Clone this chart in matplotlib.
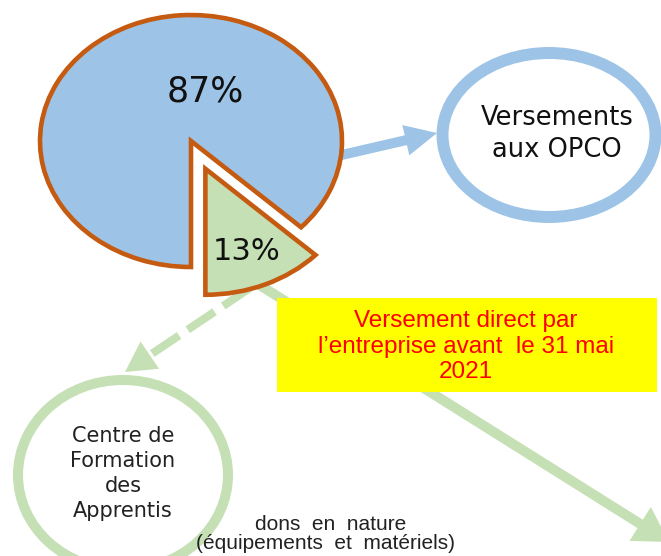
import matplotlib.pyplot as plt
from matplotlib.patches import Ellipse, Rectangle

# share of the apprenticeship tax
shares = [87, 13]
share_labels = [f"{v}%" for v in shares]
opco_label = ["Versements", "aux OPCO"]
cfa_label = ["Centre de", "Formation", "des", "Apprentis"]
direct_label = ["Versement direct par", "l\u2019entreprise avant  le 31 mai", "2021"]
nature_label = ["dons  en  nature", "(\u00e9quipements  et  mat\u00e9riels)"]

BLUE = '#9DC3E6'
GREEN = '#C5E0B4'
EDGE = '#C55A11'

W, H = 661, 556
fig = plt.figure(figsize=(W / 100, H / 100), dpi=100)

# overlay axes working in pixel units
ax = fig.add_axes([0, 0, 1, 1])
ax.set_xlim(0, W)
ax.set_ylim(H, 0)
ax.axis('off')

# blue arrow to OPCO
ax.arrow(320, 160, 117, -27, width=10, head_width=31, head_length=32,
         length_includes_head=True, color=BLUE, lw=0)
ax.add_patch(Ellipse((549, 135), 213, 164, fill=False, ec=BLUE, lw=8.6))
for txt, yb in zip(opco_label, [125, 157]):
    ax.text(557, yb, txt, ha='center', va='baseline', fontsize=18.5, color='#111111')

# green solid arrow down-right (behind the yellow box)
ax.arrow(250, 279, 419, 263, width=10, head_width=40, head_length=34,
         length_includes_head=True, color=GREEN, lw=0, zorder=1)
ax.add_patch(Rectangle((277, 298), 380, 94, fc='#FFFF00', ec='none', zorder=3))
for txt, yb in zip(direct_label, [327, 353, 378]):
    ax.text(466, yb, txt, ha='center', va='baseline', fontsize=17.5,
            color='#FF0000', family='Liberation Sans', zorder=4)

# green dashed arrow to CFA
ax.plot([250, 150], [288, 355], color=GREEN, lw=5.8, dashes=(4, 1.3),
        solid_capstyle='butt', dash_capstyle='butt')
ax.arrow(150, 355, -25, 17, width=0.01, head_width=33, head_length=30,
         length_includes_head=True, color=GREEN, lw=0)
ax.add_patch(Ellipse((123, 475), 210, 190, fill=False, ec=GREEN, lw=7.2))
for txt, yb in zip(cfa_label, [442, 467, 492, 517]):
    ax.text(123, yb, txt, ha='center', va='baseline', fontsize=15, color='#222222')

for txt, x, yb in zip(nature_label, [331, 325], [530, 549]):
    ax.text(x, yb, txt, ha='center', va='baseline', fontsize=15,
            color='#222222', family='Liberation Sans')

# pie drawn as an ellipse
cx, cy, rx, ry = 191, 141, 151, 126
lim = 1.2
pax = fig.add_axes([(cx - lim * rx) / W, (H - cy - lim * ry) / H,
                    2 * lim * rx / W, 2 * lim * ry / H])
start = -90 + 360 * shares[1] / sum(shares)
pax.pie(shares, colors=[BLUE, GREEN], startangle=start, explode=[0, 0.24],
        wedgeprops=dict(edgecolor=EDGE, linewidth=3.3, joinstyle='miter'))
pax.set_aspect('auto')
pax.set_xlim(-lim, lim)
pax.set_ylim(-lim, lim)
pax.text(0.093, 0.31, share_labels[0], ha='center', va='baseline', fontsize=25, color='#111111')
pax.text(0.371, -0.944, share_labels[1], ha='center', va='baseline', fontsize=22, color='#111111')

fig.savefig('out.png', dpi=100, facecolor='white')
